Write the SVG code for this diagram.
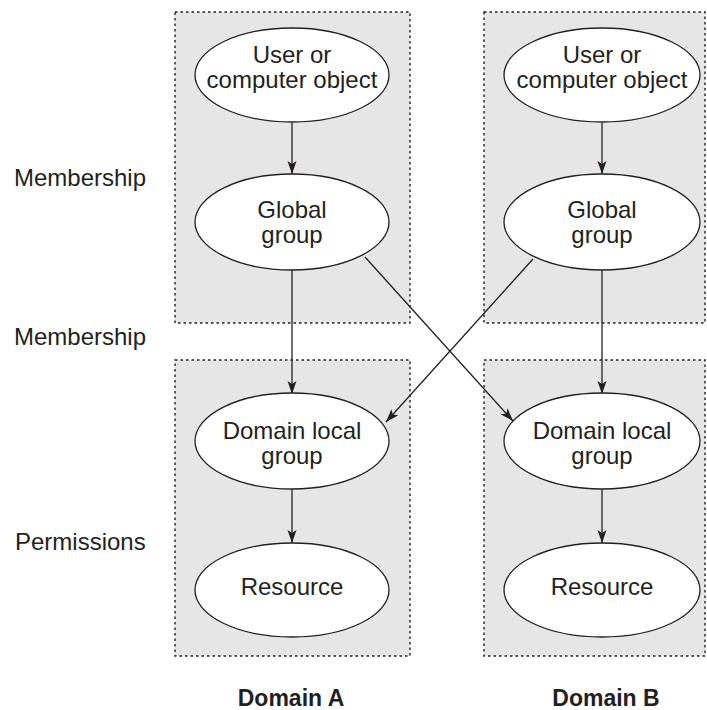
<svg xmlns="http://www.w3.org/2000/svg" width="707" height="710" viewBox="0 0 707 710">
<style>
.box{fill:#e6e6e6;stroke:#231f20;stroke-width:1.4;stroke-dasharray:2.5,3}
.node{fill:#fff;stroke:#231f20;stroke-width:1.3}
.t{font-family:"Liberation Sans",Arial,sans-serif;font-size:24px;fill:#231f20;text-anchor:middle}
.lbl{font-family:"Liberation Sans",Arial,sans-serif;font-size:24px;fill:#231f20}
.dom{font-family:"Liberation Sans",Arial,sans-serif;font-size:23px;font-weight:bold;fill:#231f20;text-anchor:middle}
.c{stroke:#231f20;stroke-width:1.3;fill:none;marker-end:url(#ah)}
</style>
<defs>
<marker id="ah" markerUnits="userSpaceOnUse" markerWidth="14" markerHeight="10" refX="13" refY="4.5" orient="auto">
<path d="M0,0 L13,4.5 L0,9 L3,4.5 z" fill="#231f20"/>
</marker>
</defs>
<g id="domains">
<rect class="box" x="175" y="12" width="235" height="311"/>
<rect class="box" x="175" y="360" width="235" height="296"/>
<rect class="box" x="484" y="12" width="221" height="311"/>
<rect class="box" x="484" y="360" width="221" height="296"/>
</g>
<g id="labels">
<text class="lbl" x="14" y="186">Membership</text>
<text class="lbl" x="14" y="345">Membership</text>
<text class="lbl" x="15" y="550">Permissions</text>
<text class="dom" x="291" y="706">Domain A</text>
<text class="dom" x="606" y="706">Domain B</text>
</g>
<g id="connectors">
<line class="c" x1="292" y1="123" x2="292" y2="174"/>
<line class="c" x1="292" y1="270" x2="292" y2="394"/>
<line class="c" x1="292" y1="489" x2="292" y2="543"/>
<line class="c" x1="602" y1="123" x2="602" y2="174"/>
<line class="c" x1="602" y1="270" x2="602" y2="394"/>
<line class="c" x1="602" y1="489" x2="602" y2="543"/>
<line class="c" x1="365" y1="257" x2="513" y2="421"/>
<line class="c" x1="533" y1="259" x2="386" y2="422"/>
</g>
<g id="userA"><ellipse class="node" cx="292" cy="75" rx="97" ry="47"/><text class="t" x="292" y="63">User or</text><text class="t" x="292" y="88">computer object</text></g>
<g id="globalA"><ellipse class="node" cx="292" cy="222" rx="97" ry="48"/><text class="t" x="292" y="218">Global</text><text class="t" x="292" y="243">group</text></g>
<g id="dlA"><ellipse class="node" cx="292" cy="441" rx="97" ry="48"/><text class="t" x="292" y="439">Domain local</text><text class="t" x="292" y="464">group</text></g>
<g id="resA"><ellipse class="node" cx="292" cy="590" rx="97" ry="47"/><text class="t" x="292" y="595">Resource</text></g>
<g id="userB"><ellipse class="node" cx="602" cy="75" rx="98" ry="47"/><text class="t" x="602" y="63">User or</text><text class="t" x="602" y="88">computer object</text></g>
<g id="globalB"><ellipse class="node" cx="602" cy="222" rx="98" ry="48"/><text class="t" x="602" y="218">Global</text><text class="t" x="602" y="243">group</text></g>
<g id="dlB"><ellipse class="node" cx="602" cy="441" rx="98" ry="48"/><text class="t" x="602" y="439">Domain local</text><text class="t" x="602" y="464">group</text></g>
<g id="resB"><ellipse class="node" cx="602" cy="590" rx="98" ry="47"/><text class="t" x="602" y="595">Resource</text></g>
</svg>
